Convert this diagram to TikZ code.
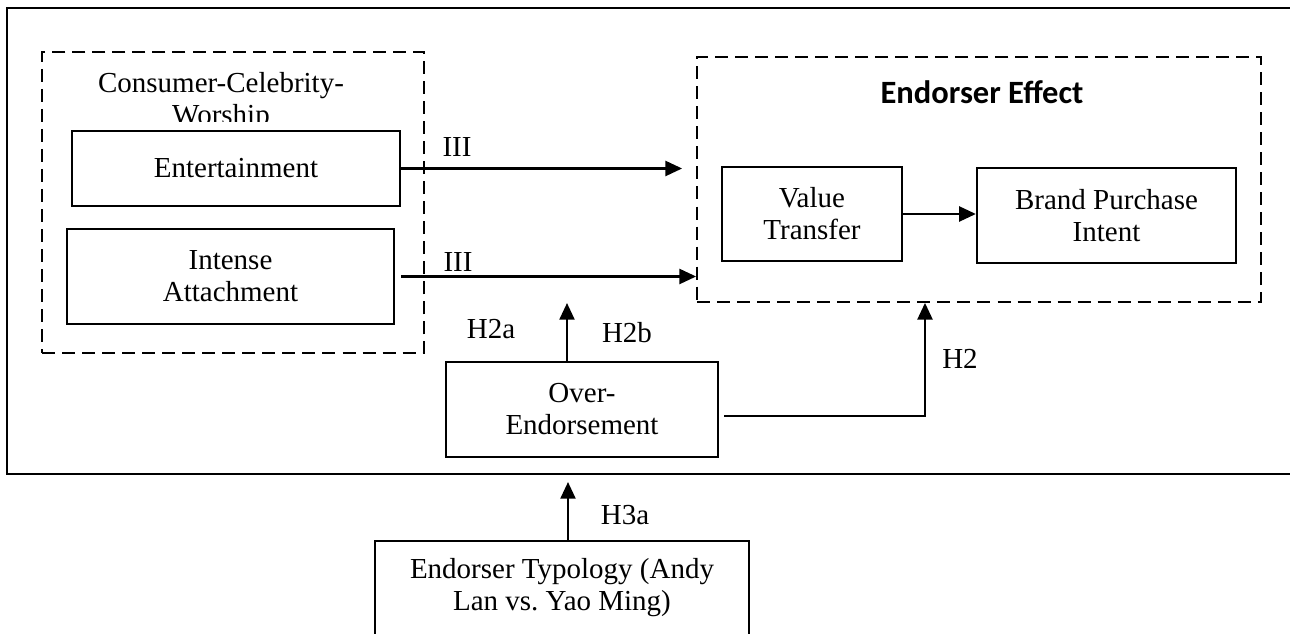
\documentclass[tikz,border=0pt]{standalone}
\usepackage{fontspec}
\setmainfont{Liberation Serif}
\newfontfamily\effectfont{Carlito}
\usetikzlibrary{arrows.meta}
\tikzset{
  cwframe/.style={line width=1.2pt, draw=black},
  cwgroup/.style={draw=black, line width=1pt, dash pattern=on 7.4pt off 4pt, inner sep=0pt},
  cwbox/.style={draw=black, line width=1.3pt, align=center, inner sep=2pt, font=\fontsize{16.5}{18.2}\selectfont},
  cwlabel/.style={inner sep=0pt, font=\fontsize{16.5}{18.2}\selectfont},
  cwtitle/.style={inner sep=0pt, align=center, font=\fontsize{16.5}{18.2}\selectfont},
  cwarrow/.style={line width=1.4pt, draw=black, -{Triangle[length=9.5pt,width=8.5pt]}},
}

\begin{document}
\begin{tikzpicture}
\useasboundingbox (0,0) rectangle (25.800,12.680);
\clip (0,0) rectangle (25.800,12.680);
\draw[cwframe] (0.140,3.200) rectangle (26.000,12.520);
\node[cwgroup, minimum width=7.640cm, minimum height=6.020cm] (worship) at (4.660,8.630) {};
\node[cwgroup, minimum width=11.280cm, minimum height=4.900cm] (effect) at (19.580,9.090) {};
\begin{scope}
\clip (0.860,10.240) rectangle (8.460,11.620);
\node[cwtitle, anchor=north] (wtitle) at (4.420,11.240) {Consumer-Celebrity-\\Worship};
\end{scope}
\node[inner sep=0pt, font=\effectfont\bfseries\fontsize{18.5}{21}\selectfont] (etitle) at (19.640,10.840) {Endorser Effect};
\node[cwbox, minimum width=6.560cm, minimum height=1.500cm] (ent) at (4.720,9.310) {\raisebox{-3pt}{Entertainment}};
\node[cwbox, minimum width=6.540cm, minimum height=1.900cm] (att) at (4.610,7.150) {Intense\\Attachment};
\node[cwbox, minimum width=3.600cm, minimum height=1.880cm] (vt) at (16.240,8.400) {Value\\Transfer};
\node[cwbox, minimum width=5.180cm, minimum height=1.900cm] (bpi) at (22.130,8.370) {Brand Purchase\\Intent};
\node[cwbox, minimum width=5.440cm, minimum height=1.900cm] (over) at (11.640,4.490) {Over-\\Endorsement};
\node[cwbox, anchor=north, minimum width=7.480cm, inner ysep=10pt, text depth=3cm] (typo) at (11.240,1.880) {Endorser Typology (Andy\\Lan vs.\ Yao Ming)};
\coordinate (h2tip) at (11.340,6.620);
\coordinate (h3tip) at (11.360,3.040);
\draw[cwarrow] (ent.east) -- ([xshift=-0.280cm]ent.east -| effect.west);
\draw[cwarrow] ([xshift=0.120cm]att.east) -- (att.east -| effect.west);
\draw[cwarrow] (vt.east) -- (vt.east -| bpi.west);
\draw[cwarrow] ([shift={(0.100,-0.130)}]over.east) -| ([xshift=-1.080cm]effect.south);
\draw[cwarrow] (over.north -| h2tip) -- (h2tip);
\draw[cwarrow] (typo.north -| h3tip) -- (h3tip);
\node[cwlabel] (l1) at (9.140,9.740) {III};
\node[cwlabel] (l2) at (9.160,7.440) {III};
\node[cwlabel] (lh2a) at (9.820,6.100) {H2a};
\node[cwlabel] (lh2b) at (12.540,6.020) {H2b};
\node[cwlabel] (lh2) at (19.200,5.500) {H2};
\node[cwlabel] (lh3a) at (12.500,2.380) {H3a};
\end{tikzpicture}
\end{document}
